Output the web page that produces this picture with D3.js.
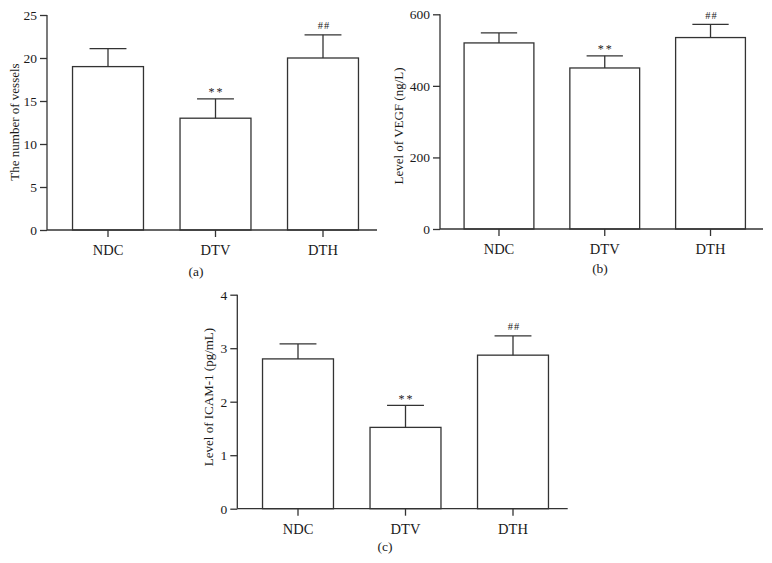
<!DOCTYPE html>
<html>
<head>
<meta charset="utf-8">
<script src="https://cdn.jsdelivr.net/npm/d3@7"></script>
<style>
  html, body { margin: 0; padding: 0; background: #fff; }
  svg { display: block; }
  text { font-family: "Liberation Serif", "DejaVu Serif", serif; fill: #1a1a1a; }
</style>
</head>
<body>
<svg id="chart" width="772" height="563"></svg>
<script>
// ---- data ----
const categories = ["NDC", "DTV", "DTH"];
const significance = ["", "**", "##"];

const vesselsMean = [19.0, 13.0, 20.0];
const vesselsSD   = [2.1, 2.25, 2.7];
const vesselsTicks = [0, 5, 10, 15, 20, 25];

const vegfMean = [520, 450, 535];
const vegfSD   = [28, 34, 37];
const vegfTicks = [0, 200, 400, 600];

const icamMean = [2.80, 1.52, 2.87];
const icamSD   = [0.28, 0.41, 0.36];
const icamTicks = [0, 1, 2, 3, 4];

const svg = d3.select("#chart");
const stroke = "#333";

function panel(opt) {
  const g = svg.append("g");
  const y = d3.scaleLinear().domain([0, opt.ticks[opt.ticks.length - 1]]).range([opt.y0, opt.y1]);
  const x = d3.scaleBand().domain(categories).range([opt.bx0, opt.bx1])
    .paddingInner(0.34).paddingOuter(0.17);

  // bars
  const rows = categories.map((c, i) => ({ c, m: opt.mean[i], sd: opt.sd[i], s: significance[i] }));
  g.selectAll("rect.bar").data(rows).enter().append("rect")
    .attr("x", d => x(d.c)).attr("y", d => y(d.m))
    .attr("width", x.bandwidth()).attr("height", d => y(0) - y(d.m))
    .attr("fill", "#fff").attr("stroke", stroke).attr("stroke-width", 1.3);

  // error bars (upper only)
  const capW = x.bandwidth() * 0.52;
  rows.forEach(d => {
    const cx = x(d.c) + x.bandwidth() / 2;
    g.append("line").attr("x1", cx).attr("x2", cx).attr("y1", y(d.m)).attr("y2", y(d.m + d.sd))
      .attr("stroke", stroke).attr("stroke-width", 1.3);
    g.append("line").attr("x1", cx - capW / 2).attr("x2", cx + capW / 2)
      .attr("y1", y(d.m + d.sd)).attr("y2", y(d.m + d.sd))
      .attr("stroke", stroke).attr("stroke-width", 1.3);
    if (d.s) {
      g.append("text").attr("x", cx + 1).attr("y", y(d.m + d.sd) - (d.s === "**" ? 2.5 : 5.5))
        .attr("text-anchor", "middle").attr("font-size", d.s === "**" ? 12 : 10.5)
        .attr("letter-spacing", d.s === "**" ? 2 : 1)
        .text(d.s);
    }
  });

  // y axis
  const yAxis = d3.axisLeft(y).tickValues(opt.ticks).tickFormat(d3.format("d")).tickSize(7).tickPadding(3);
  const ya = g.append("g").attr("transform", `translate(${opt.ax},0)`).call(yAxis);
  ya.select(".domain").attr("stroke", stroke).attr("stroke-width", 1.3).attr("d", `M0,${opt.y0}V${opt.y1}`);
  ya.selectAll(".tick line").attr("stroke", stroke).attr("stroke-width", 1.3);
  ya.selectAll(".tick text").attr("font-size", 13.5).attr("font-family", "Liberation Serif").attr("fill", "#1a1a1a");

  // x axis
  const xAxis = d3.axisBottom(x).tickSize(7).tickPadding(8);
  const xa = g.append("g").attr("transform", `translate(0,${opt.y0})`).call(xAxis);
  xa.select(".domain").attr("stroke", stroke).attr("stroke-width", 1.3).attr("d", `M${opt.ax},0H${opt.axEnd}`);
  xa.selectAll(".tick line").attr("stroke", stroke).attr("stroke-width", 1.3);
  xa.selectAll(".tick text").attr("font-size", 14.5).attr("font-family", "Liberation Serif").attr("fill", "#1a1a1a");

  // y title
  g.append("text")
    .attr("transform", `translate(${opt.titleX},${opt.titleY}) rotate(-90)`)
    .attr("text-anchor", "middle").attr("dominant-baseline", "middle")
    .attr("font-size", 13).text(opt.title);

  // panel label
  g.append("text").attr("x", opt.labX).attr("y", opt.labY)
    .attr("text-anchor", "middle").attr("font-size", 13.5).text(opt.label);
}

panel({ mean: vesselsMean, sd: vesselsSD, ticks: vesselsTicks,
  y0: 230, y1: 15, ax: 47, axEnd: 377, bx0: 54.25, bx1: 376.75,
  title: "The number of vessels", titleX: 16, titleY: 122, label: "(a)", labX: 196, labY: 276 });

panel({ mean: vegfMean, sd: vegfSD, ticks: vegfTicks,
  y0: 229, y1: 14.3, ax: 440, axEnd: 763, bx0: 446.1, bx1: 763.4,
  title: "Level of VEGF (ng/L)", titleX: 400, titleY: 126, label: "(b)", labX: 600, labY: 273 });

panel({ mean: icamMean, sd: icamSD, ticks: icamTicks,
  y0: 508.7, y1: 294.7, ax: 237.3, axEnd: 567.7, bx0: 244.25, bx1: 566.75,
  title: "Level of ICAM-1 (pg/mL)", titleX: 210, titleY: 397, label: "(c)", labX: 385, labY: 551 });
</script>
</body>
</html>
